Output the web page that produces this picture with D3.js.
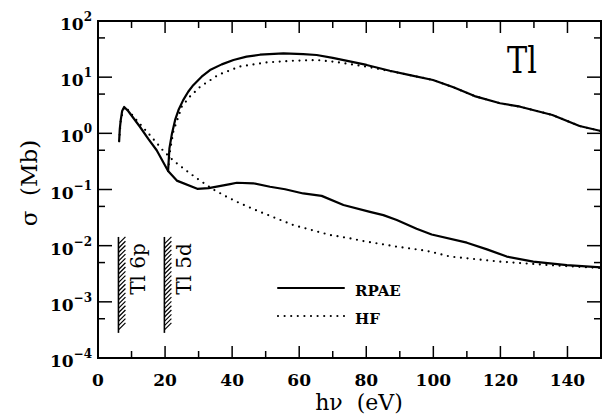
<!DOCTYPE html>
<html>
<head>
<meta charset="utf-8">
<script src="https://cdn.jsdelivr.net/npm/d3@7"></script>
<style>
  body { margin: 0; background: #fff; }
  text { font-family: "DejaVu Serif", serif; fill: #000; }
</style>
</head>
<body>
<div id="chart"></div>
<script>
// Tl photoionization cross sections
const rpae6pE = [6.3, 6.5, 6.8, 7.2, 7.8, 9, 12.5, 15, 17.5, 20.9, 23.5, 29.6, 33, 39.4, 41.4, 46.3, 51.3, 55.8, 61.2, 66.7, 73.2, 81.1, 85.1, 89.1, 95, 99.5, 110, 116, 121.9, 129.8, 139.8, 150];
const rpae6pS = [0.72, 1.2, 1.75, 2.5, 2.95, 2.5, 1.31, 0.8, 0.5, 0.214, 0.144, 0.103, 0.106, 0.125, 0.132, 0.129, 0.112, 0.101, 0.085, 0.077, 0.053, 0.040, 0.035, 0.0286, 0.020, 0.0158, 0.0113, 0.0086, 0.0064, 0.0052, 0.0045, 0.0041];

const hf6pE = [6.3, 6.8, 7.8, 9, 11, 15, 18, 19.5, 22.5, 26, 29.4, 34.4, 38.4, 42.3, 48.3, 58.2, 69.2, 75.2, 79.1, 89.1, 98, 105, 119.9, 134.8, 149.7];
const hf6pS = [0.72, 1.75, 2.95, 2.6, 1.85, 1.0, 0.62, 0.485, 0.326, 0.224, 0.159, 0.1, 0.074, 0.057, 0.040, 0.0233, 0.0155, 0.0135, 0.0121, 0.0096, 0.0081, 0.0064, 0.0052, 0.0045, 0.0040];

const rpae5dE = [20.9, 21.3, 22, 23, 24, 25.4, 26.9, 28.4, 30.9, 33.4, 36.9, 40.4, 44.3, 48.3, 55.3, 61.2, 65.2, 70, 80.1, 87, 93, 99.9, 106, 112.3, 119.9, 125.9, 135.5, 143.6, 150];
const rpae5dS = [0.214, 0.54, 0.95, 1.73, 2.6, 3.9, 5.5, 7.2, 10.2, 13.4, 16.9, 20.2, 23.2, 25.1, 26.6, 25.7, 24.8, 22, 16.5, 13, 10.9, 8.9, 6.6, 4.6, 3.43, 2.98, 2.12, 1.35, 1.1];

const hf5dE = [20.9, 21.5, 22.5, 24, 25, 27.4, 30.4, 35.9, 42.3, 50.3, 58.2, 65.2, 70.2, 80.1, 87.1, 93, 99.9, 106, 112.3, 119.9, 125.9, 135.5, 143.6, 150];
const hf5dS = [0.214, 0.5, 1.1, 2.0, 3.0, 4.5, 6.7, 11, 15.5, 18.3, 19.6, 20.2, 18.9, 15.4, 12.8, 10.9, 8.9, 6.6, 4.6, 3.43, 2.98, 2.12, 1.35, 1.1];

const xTicks = [0, 20, 40, 60, 80, 100, 120, 140];
const xMinor = [10, 30, 50, 70, 90, 110, 130, 150];
const yExp = [2, 1, 0, -1, -2, -3, -4];
const yMinor = [50, 5, 0.5, 0.05, 0.005, 0.0005];

const thresholds = [6.1, 19.8];
const thresholdLabels = ["Tl 6p", "Tl 5d"];
const markerRange = [0.0143, 0.00028];

const W = 605, H = 420;
const margin = { top: 21, left: 98, right: 4, bottom: 62 };

const x = d3.scaleLinear().domain([0, 150]).range([margin.left, W - margin.right]);
const y = d3.scaleLog().domain([1e-4, 100]).range([H - margin.bottom, margin.top]);

const svg = d3.select("#chart").append("svg")
  .attr("width", W).attr("height", H);

svg.append("clipPath").attr("id", "clip")
  .append("rect")
  .attr("x", x(0)).attr("y", y(100))
  .attr("width", x(150) - x(0)).attr("height", y(1e-4) - y(100));

// curves
const line = d3.line()
  .x(d => x(d[0])).y(d => y(d[1]));

const zip = (a, b) => a.map((v, i) => [v, b[i]]);

const plot = svg.append("g").attr("clip-path", "url(#clip)");

[zip(hf6pE, hf6pS), zip(hf5dE, hf5dS)].forEach(pts => {
  plot.append("path").attr("d", line(pts))
    .attr("fill", "none").attr("stroke", "#000")
    .attr("stroke-width", 2.2)
    .attr("stroke-linecap", "round")
    .attr("stroke-dasharray", "0 6.6");
});

[zip(rpae6pE, rpae6pS), zip(rpae5dE, rpae5dS)].forEach(pts => {
  plot.append("path").attr("d", line(pts))
    .attr("fill", "none").attr("stroke", "#000")
    .attr("stroke-width", 2.2)
    .attr("stroke-linejoin", "round");
});

// threshold markers with hatching
thresholds.forEach((t, i) => {
  const g = svg.append("g");
  const x0 = x(t), yTop = y(markerRange[0]), yBot = y(markerRange[1]);
  g.append("line").attr("x1", x0).attr("x2", x0).attr("y1", yTop).attr("y2", yBot)
    .attr("stroke", "#000").attr("stroke-width", 1.6);
  d3.range(yTop + 7, yBot + 0.5, 4.3).forEach(yy => {
    g.append("line").attr("x1", x0).attr("y1", yy).attr("x2", x0 + 7).attr("y2", yy - 7)
      .attr("stroke", "#000").attr("stroke-width", 1.2);
  });
  g.append("text")
    .attr("transform", `translate(${x0 + 27},${(yTop + yBot) / 2 - 16}) rotate(-90)`)
    .attr("text-anchor", "middle")
    .attr("font-size", 20)
    .text(thresholdLabels[i]);
});

// frame
svg.append("rect")
  .attr("x", x(0)).attr("y", y(100))
  .attr("width", x(150) - x(0)).attr("height", y(1e-4) - y(100))
  .attr("fill", "none").attr("stroke", "#000").attr("stroke-width", 2);

// ticks (inward, all four sides)
const tickG = svg.append("g").attr("stroke", "#000").attr("stroke-width", 1.5);
const xt = (v, len) => {
  tickG.append("line").attr("x1", x(v)).attr("x2", x(v)).attr("y1", y(1e-4)).attr("y2", y(1e-4) - len);
  tickG.append("line").attr("x1", x(v)).attr("x2", x(v)).attr("y1", y(100)).attr("y2", y(100) + len);
};
const yt = (v, len) => {
  tickG.append("line").attr("x1", x(0)).attr("x2", x(0) + len).attr("y1", y(v)).attr("y2", y(v));
  tickG.append("line").attr("x1", x(150)).attr("x2", x(150) - len).attr("y1", y(v)).attr("y2", y(v));
};
xTicks.forEach(v => xt(v, 12));
xMinor.forEach(v => xt(v, 7));
yExp.forEach(e => yt(Math.pow(10, e), 14));
yMinor.forEach(v => yt(v, 7));

// tick labels
svg.append("g").selectAll("text").data(xTicks).join("text")
  .attr("x", d => x(d)).attr("y", 386)
  .attr("text-anchor", "middle")
  .attr("font-size", 17).attr("font-weight", "bold")
  .text(d => d);

const yl = svg.append("g").selectAll("text").data(yExp).join("text")
  .attr("x", 92).attr("y", d => y(Math.pow(10, d)) + 9)
  .attr("text-anchor", "end")
  .attr("font-size", 17).attr("font-weight", "bold");
yl.append("tspan").text("10");
yl.append("tspan").attr("dy", -9).attr("font-size", 12)
  .text(d => d < 0 ? "\u2212" + (-d) : d);

// axis titles
svg.append("text")
  .attr("transform", "translate(37,183) rotate(-90)")
  .attr("text-anchor", "middle")
  .attr("font-size", 23)
  .attr("xml:space", "preserve")
  .text("\u03C3  (Mb)");

svg.append("text")
  .attr("x", 359).attr("y", 410)
  .attr("text-anchor", "middle")
  .attr("font-size", 22)
  .attr("xml:space", "preserve")
  .text("h\u03BD  (eV)");

svg.append("text")
  .attr("transform", "translate(507,73) scale(0.82,1)")
  .attr("font-family", "Liberation Serif, serif")
  .attr("font-size", 37)
  .text("Tl");

// legend
const legend = [["RPAE", null], ["HF", "0 6.6"]];
legend.forEach(([name, dash], i) => {
  const ly = 288 + i * 28;
  const l = svg.append("line")
    .attr("x1", 278).attr("x2", 344).attr("y1", ly).attr("y2", ly)
    .attr("stroke", "#000").attr("stroke-width", 2).attr("stroke-linecap", "round");
  if (dash) l.attr("stroke-dasharray", dash).attr("stroke-width", 2.2);
  svg.append("text").attr("x", 355).attr("y", ly + 8)
    .attr("font-size", 15).attr("font-weight", "bold")
    .text(name);
});
</script>
</body>
</html>
